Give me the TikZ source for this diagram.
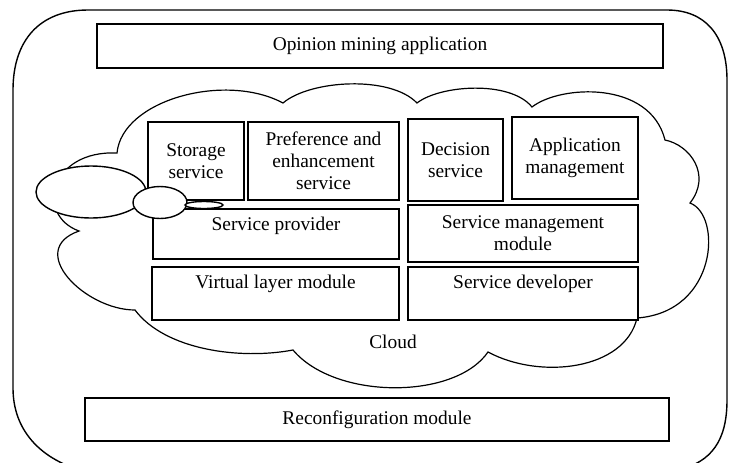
\documentclass[tikz,border=0pt]{standalone}
\usepackage{fontspec}
\setmainfont{Liberation Serif}

\tikzset{
  box/.style={draw, fill=white, line width=0.8pt, align=center, inner sep=1pt},
  toptext/.style={text height=10.5pt, text depth=#1, inner ysep=0pt},
  bubble/.style={draw, fill=white, line width=0.7pt},
}

\begin{document}
\begin{tikzpicture}[x=0.5pt,y=-0.5pt,font=\rmfamily\fontsize{9.7}{10.9}\selectfont]

\useasboundingbox (0,0) rectangle (735,462);
\clip (0,0) rectangle (735,462);

% outer frame
\draw[line width=0.7pt] (13,90) .. controls (13,40) and (40,10) .. (88,10) -- (667,10)
  .. controls (705,10) and (727,35) .. (727,80) -- (727,400)
  .. controls (727,440) and (712,462) .. (678,470) -- (80,470)
  .. controls (40,458) and (13,430) .. (13,388) -- cycle;

% cloud
\draw[line width=0.6pt] (79,231)
  .. controls (35,215) and (50,150) .. (117,153)
  .. controls (122,100) and (225,72) .. (283,103)
  .. controls (310,80) and (390,75) .. (417,103)
  .. controls (440,85) and (510,80) .. (532,107)
  .. controls (560,85) and (650,80) .. (665,140)
  .. controls (690,145) and (712,175) .. (690,203)
  .. controls (722,215) and (718,312) .. (637,318)
  .. controls (625,370) and (540,380) .. (488,352)
  .. controls (455,400) and (335,400) .. (293,350)
  .. controls (240,360) and (165,350) .. (135,310)
  .. controls (85,310) and (25,250) .. (79,231) -- cycle;

% layers
\node[box, minimum width=283pt, minimum height=22pt] (opin) at (380,46) {Opinion mining application};
\node[box, minimum width=48pt, minimum height=39pt] (stor) at (196,161) {Storage\\service};
\node[box, minimum width=75.5pt, minimum height=39pt] (pref) at (323.5,161) {Preference and\\enhancement\\service};
\node[box, minimum width=47.5pt, minimum height=41pt] (deci) at (455.5,160) {Decision\\service};
\node[box, minimum width=63pt, minimum height=41pt] (appm) at (575,158) {Application\\management};
\node[box, toptext=14.5pt, minimum width=123pt, minimum height=25pt] (prov) at (276,234) {Service provider};
\node[box, minimum width=115pt, minimum height=28.5pt] (smgm) at (523,233.5) {Service management\\module};
\node[box, toptext=16pt, minimum width=123.5pt, minimum height=26.5pt] (virt) at (275.5,293.5) {Virtual layer module};
\node[box, toptext=16pt, minimum width=115pt, minimum height=26.5pt] (sdev) at (523,293.5) {Service developer};
\node (cloud) at (393,342) {Cloud};
\node[box, minimum width=292pt, minimum height=21.5pt] (reco) at (377,419.5) {Reconfiguration module};

% thought bubbles
\draw[bubble] (91,192) ellipse [x radius=55, y radius=26];
\draw[bubble] (160,202.5) ellipse [x radius=27, y radius=16];
\draw[bubble] (204,205) ellipse [x radius=19, y radius=3.5];

\end{tikzpicture}
\end{document}
